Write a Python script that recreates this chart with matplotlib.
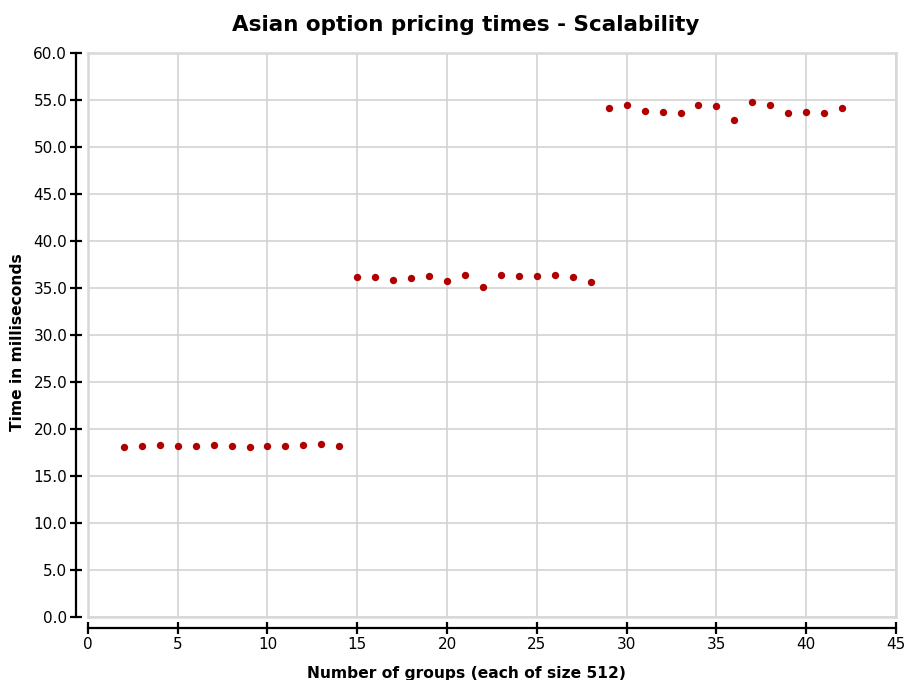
import matplotlib
matplotlib.use("Agg")
import matplotlib.pyplot as plt

# timings per number of groups
groups = list(range(2, 43))
times_ms = [
    18.05, 18.22, 18.30, 18.19, 18.16, 18.26, 18.19, 18.05, 18.22, 18.22, 18.33, 18.40, 18.19,
    36.17, 36.17, 35.88, 36.03, 36.24, 35.78, 36.35, 35.07, 36.35, 36.28, 36.28, 36.38, 36.20, 35.67,
    54.18, 54.44, 53.83, 53.76, 53.59, 54.44, 54.33, 52.84, 54.76, 54.44, 53.59, 53.76, 53.65, 54.12,
]
x_ticks = [0, 5, 10, 15, 20, 25, 30, 35, 40, 45]
y_ticks = [0, 5, 10, 15, 20, 25, 30, 35, 40, 45, 50, 55, 60]

fig = plt.figure(figsize=(9.06, 6.8), dpi=100)
ax = fig.add_axes([0.097, 0.0926, 0.892, 0.8294])

ax.scatter(groups, times_ms, s=28, color="#b00000", zorder=3, linewidths=0)

ax.set_xlim(0, 45)
ax.set_ylim(0, 60)
ax.set_xticks(x_ticks)
ax.set_yticks(y_ticks)
ax.set_yticklabels([f"{v:.1f}" for v in y_ticks])
ax.grid(True, color="#d0d0d0", linewidth=1.1)
ax.set_axisbelow(True)

# light frame around the plot area, black axes pushed outward
for side in ("top", "right"):
    ax.spines[side].set_color("#d8d8d8")
    ax.spines[side].set_linewidth(1.8)
ax.spines["left"].set_position(("outward", 8.6))
ax.spines["bottom"].set_position(("outward", 8))
for side in ("left", "bottom"):
    ax.spines[side].set_color("black")
    ax.spines[side].set_linewidth(1.6)
ax.plot([0, 0], [0, 60], color="#d8d8d8", lw=1.8, clip_on=False, zorder=1)
ax.plot([0, 45], [0, 0], color="#d8d8d8", lw=1.8, clip_on=False, zorder=1)

ax.tick_params(direction="inout", length=8.6, width=1.6, labelsize=11, pad=2)

ax.set_title("Asian option pricing times - Scalability", fontsize=15.5,
             fontweight="bold", x=0.467, pad=16)
ax.set_xlabel("Number of groups (each of size 512)", fontsize=11.2,
              fontweight="bold")
ax.set_ylabel("Time in milliseconds", fontsize=11.2, fontweight="bold")
ax.xaxis.set_label_coords(0.468, -0.086)
ax.yaxis.set_label_coords(-0.078, 0.488)

fig.savefig("out.png", dpi=100)
